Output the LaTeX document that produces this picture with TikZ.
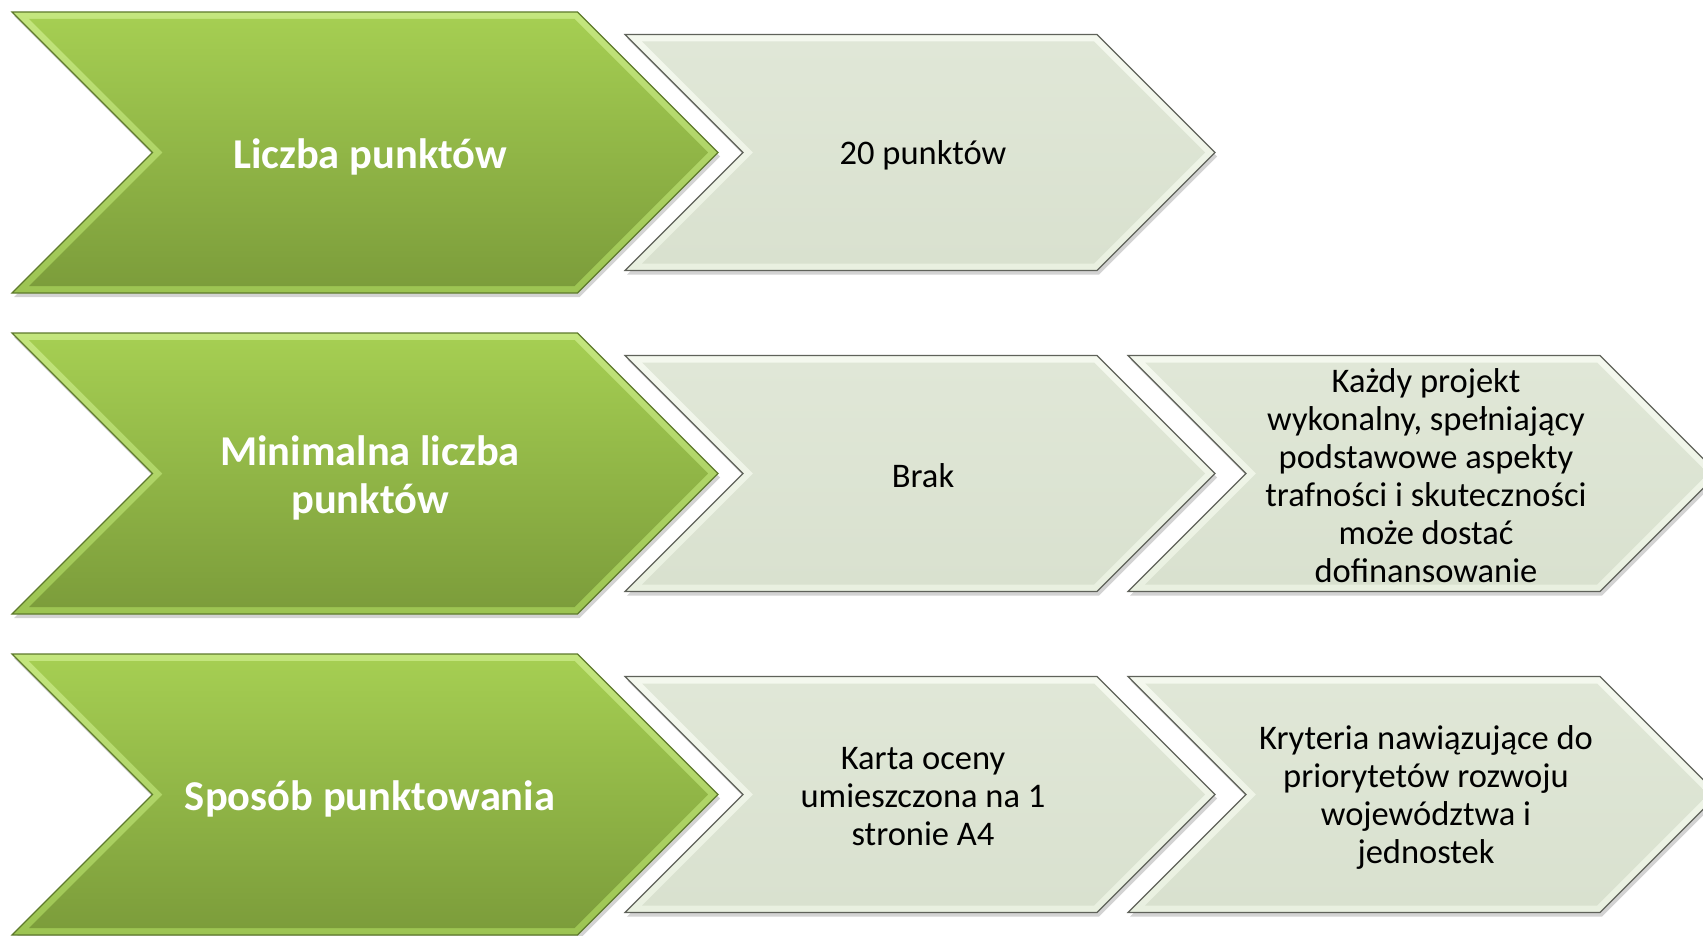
\documentclass[tikz,border=0pt]{standalone}
\usepackage{fontspec}
\setmainfont{Carlito}
\usetikzlibrary{shadows}
\definecolor{gTop}{HTML}{A5CE52}
\definecolor{gBot}{HTML}{7C9D3B}
\definecolor{gBevTop}{HTML}{C4E67E}
\definecolor{gBevBot}{HTML}{9CC452}
\definecolor{gEdge}{HTML}{5E7A2C}
\definecolor{sFill}{HTML}{E0E7D7}
\definecolor{sFillBot}{HTML}{D9E1CF}
\definecolor{sBevTop}{HTML}{F4F8EE}
\definecolor{sBevBot}{HTML}{E9F0E0}
\definecolor{sEdge}{HTML}{5F625A}
\tikzset{
  gouter/.style={drop shadow={opacity=0.35,shadow xshift=2pt,shadow yshift=-4pt},
                 top color=gBevTop,bottom color=gBevBot,draw=gEdge,line width=1.2pt},
  ginner/.style={top color=gTop,bottom color=gBot},
  souter/.style={drop shadow={opacity=0.35,shadow xshift=2pt,shadow yshift=-4pt},
                 top color=sBevTop,bottom color=sBevBot,draw=sEdge,line width=1.2pt},
  sinner/.style={top color=sFill,bottom color=sFillBot},
  gtxt/.style={text=white,font=\bfseries\fontsize{42.5}{48}\selectfont,align=center,inner sep=0pt,yshift=-4pt,xshift=5pt},
  stxt/.style={text=black,font=\fontsize{34.5}{38}\selectfont,align=center,inner sep=0pt,yshift=-2.5pt,xshift=3pt},
}
% #1 name, #2 x0, #3 ymid, #4 width, #5 half height (= depth), #6 outer style, #7 inner style
\newcommand\mychev[7]{%
  \path[#6] (#2,#3-#5) -- (#2+#4-#5,#3-#5) -- (#2+#4,#3) -- (#2+#4-#5,#3+#5)
    -- (#2,#3+#5) -- (#2+#5,#3) -- cycle;
  \path[#7] (#2+17,#3-#5+7) -- (#2+#4-#5-3,#3-#5+7) -- (#2+#4-10,#3) -- (#2+#4-#5-3,#3+#5-7)
    -- (#2+17,#3+#5-7) -- (#2+#5+10,#3) -- cycle;
  \coordinate (#1) at (#2+#4/2,#3);
}
\begin{document}
\begin{tikzpicture}[x=1pt,y=-1pt]
\useasboundingbox (0,0) rectangle (1703,936);
% row 1
\mychev{g1}{12}{152.5}{706}{140.5}{gouter}{ginner}
\mychev{a1}{625}{152.5}{590}{118}{souter}{sinner}
% row 2
\mychev{g2}{12}{473.5}{706}{140.5}{gouter}{ginner}
\mychev{a2}{625}{473.5}{590}{118}{souter}{sinner}
\mychev{b2}{1128}{473.5}{590}{118}{souter}{sinner}
% row 3
\mychev{g3}{12}{794.5}{706}{140.5}{gouter}{ginner}
\mychev{a3}{625}{794.5}{590}{118}{souter}{sinner}
\mychev{b3}{1128}{794.5}{590}{118}{souter}{sinner}
% texts
\node[gtxt] (tg1) at (g1) {Liczba punktów};
\node[stxt] (ta1) at (a1) {20 punktów};
\node[gtxt] (tg2) at (g2) {Minimalna liczba\\punktów};
\node[stxt] (ta2) at (a2) {Brak};
\node[stxt] (tb2) at (b2) {Każdy projekt\\wykonalny, spełniający\\podstawowe aspekty\\trafności i skuteczności\\może dostać\\dofinansowanie};
\node[gtxt] (tg3) at (g3) {Sposób punktowania};
\node[stxt] (ta3) at (a3) {Karta oceny\\umieszczona na 1\\stronie A4};
\node[stxt] (tb3) at (b3) {Kryteria nawiązujące do\\priorytetów rozwoju\\województwa i\\jednostek};
\end{tikzpicture}
\end{document}
